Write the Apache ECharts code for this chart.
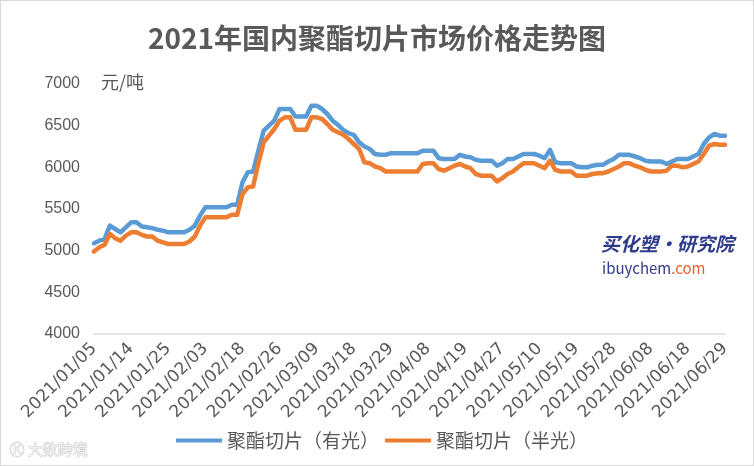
<!DOCTYPE html>
<html>
<head>
<meta charset="utf-8">
<script src="https://cdn.jsdelivr.net/npm/echarts@6/dist/echarts.min.js"></script>
<style>
html,body{margin:0;padding:0;background:#fff;}
#chart{width:754px;height:466px;box-sizing:border-box;border:1px solid #d9d9d9;}
</style>
</head>
<body>
<div id="chart"></div>
<script>
const titleText = '2021年国内聚酯切片市场价格走势图';
const unitText = '元/吨';
const seriesNames = ['聚酯切片（有光）', '聚酯切片（半光）'];

const dates = [
'2021/01/05','2021/01/06','2021/01/07','2021/01/08','2021/01/11','2021/01/12','2021/01/13','2021/01/14','2021/01/15','2021/01/18',
'2021/01/19','2021/01/20','2021/01/21','2021/01/22','2021/01/25','2021/01/26','2021/01/27','2021/01/28','2021/01/29',
'2021/02/01','2021/02/02','2021/02/03','2021/02/04','2021/02/05','2021/02/07','2021/02/08','2021/02/09','2021/02/10',
'2021/02/18','2021/02/19','2021/02/20','2021/02/22','2021/02/23','2021/02/24','2021/02/25','2021/02/26',
'2021/03/01','2021/03/02','2021/03/03','2021/03/04','2021/03/05','2021/03/08','2021/03/09','2021/03/10','2021/03/11','2021/03/12',
'2021/03/15','2021/03/16','2021/03/17','2021/03/18','2021/03/19','2021/03/22','2021/03/23','2021/03/24','2021/03/25','2021/03/26',
'2021/03/29','2021/03/30','2021/03/31',
'2021/04/01','2021/04/02','2021/04/06','2021/04/07','2021/04/08','2021/04/09','2021/04/12','2021/04/13','2021/04/14','2021/04/15',
'2021/04/16','2021/04/19','2021/04/20','2021/04/21','2021/04/22','2021/04/23','2021/04/25','2021/04/26','2021/04/27','2021/04/28',
'2021/04/29','2021/04/30',
'2021/05/06','2021/05/07','2021/05/08','2021/05/10','2021/05/11','2021/05/12','2021/05/13','2021/05/14','2021/05/17','2021/05/18',
'2021/05/19','2021/05/20','2021/05/21','2021/05/24','2021/05/25','2021/05/26','2021/05/27','2021/05/28','2021/05/31',
'2021/06/01','2021/06/02','2021/06/03','2021/06/04','2021/06/07','2021/06/08','2021/06/09','2021/06/10','2021/06/11','2021/06/15',
'2021/06/16','2021/06/17','2021/06/18','2021/06/21','2021/06/22','2021/06/23','2021/06/24','2021/06/25','2021/06/28','2021/06/29'
];

// 聚酯切片（有光）
const brightPrice = [
5090,5120,5140,5300,5260,5220,5280,5340,5340,5290,
5280,5270,5250,5240,5220,5220,5220,5220,5250,5300,
5420,5520,5520,5520,5520,5520,5550,5550,5820,5940,
5950,6200,6440,6500,6560,6700,6700,6700,6610,6610,
6610,6740,6740,6700,6640,6560,6510,6450,6410,6390,
6300,6250,6220,6160,6150,6150,6170,6170,6170,6170,
6170,6170,6200,6200,6200,6110,6100,6100,6100,6150,
6130,6120,6090,6080,6080,6080,6020,6050,6100,6100,
6130,6160,6160,6160,6140,6110,6210,6060,6050,6050,
6050,6010,6000,6000,6020,6030,6030,6070,6100,6150,
6150,6150,6130,6110,6080,6070,6070,6070,6040,6070,
6100,6100,6100,6130,6160,6280,6360,6400,6380,6380
];

// 聚酯切片（半光）
const semiDullPrice = [
4990,5040,5070,5200,5150,5120,5180,5220,5220,5190,
5170,5170,5120,5100,5080,5080,5080,5080,5110,5170,
5300,5400,5400,5400,5400,5400,5430,5430,5680,5760,
5770,6050,6300,6380,6460,6560,6600,6600,6450,6450,
6450,6600,6600,6580,6520,6450,6420,6390,6340,6280,
6220,6060,6050,6010,5990,5950,5950,5950,5950,5950,
5950,5950,6040,6050,6050,5980,5960,5990,6020,6040,
6010,5990,5920,5900,5900,5900,5830,5870,5920,5950,
6000,6050,6050,6050,6020,5990,6080,5970,5950,5950,
5950,5900,5900,5900,5920,5930,5930,5950,5980,6010,
6050,6050,6020,6000,5970,5950,5950,5950,5960,6020,
6020,6000,6010,6040,6070,6160,6260,6280,6270,6270
];

const yMin = 4000, yMax = 7000, yStep = 500;

const chart = echarts.init(document.getElementById('chart'), null, {renderer: 'canvas'});
const txt = '#595959';
const font = '"Noto Sans CJK SC", "Noto Sans", sans-serif';

chart.setOption({
  backgroundColor: '#fff',
  animation: false,
  title: {
    text: titleText,
    left: 'center',
    top: 18,
    textStyle: {fontSize: 28, fontWeight: 'bold', color: txt, fontFamily: font}
  },
  legend: {
    bottom: 10,
    left: 170,
    icon: 'rect',
    itemWidth: 46,
    itemHeight: 4,
    itemGap: 6,
    textStyle: {fontSize: 19, color: txt, fontFamily: font},
    data: seriesNames
  },
  grid: {left: 93, right: 28, top: 83, bottom: 131, containLabel: false},
  xAxis: {
    type: 'category',
    boundaryGap: false,
    data: dates,
    axisLine: {lineStyle: {color: '#d9d9d9', width: 1.5}},
    axisTick: {show: false},
    axisLabel: {
      interval: 6,
      rotate: 45,
      fontSize: 17,
      color: txt,
      margin: 12,
      fontFamily: '"DejaVu Sans", "Noto Sans", sans-serif'
    },
    splitLine: {show: false}
  },
  yAxis: {
    type: 'value',
    min: yMin,
    max: yMax,
    interval: yStep,
    axisLine: {show: false},
    axisTick: {show: false},
    splitLine: {show: false},
    axisLabel: {
      fontSize: 16, color: txt, margin: 14,
      fontFamily: '"Liberation Sans", "Noto Sans", sans-serif',
      formatter: function (v) { return String(v); }
    }
  },
  graphic: [
    {type: 'text', left: 100, top: 72, style: {text: unitText, fontSize: 18, fill: txt, fontFamily: font}},
    {type: 'text', left: 600, top: 233, style: {text: '买化塑·研究院', fontSize: 19, fontWeight: 'bold', fontStyle: 'italic', fill: '#2e3a8c', fontFamily: font}},
    {type: 'text', left: 601, top: 260, style: {
      rich: {a: {fontSize: 15, fill: '#2e3a8c', fontFamily: font}, b: {fontSize: 15, fill: '#e8602c', fontFamily: font}},
      text: '{a|ibuychem}{b|.com}'
    }},
    {type: 'text', left: 8, top: 440, style: {text: 'Ⓚ 大数跨境', fontSize: 15, fill: '#f2f2f2', stroke: '#cfcfcf', lineWidth: 1, fontFamily: font}}
  ],
  series: [
    {
      name: seriesNames[0],
      type: 'line',
      data: brightPrice,
      showSymbol: false,
      symbol: 'none',
      lineStyle: {width: 4.5, color: '#5b9bd5', join: 'round', cap: 'round'},
      itemStyle: {color: '#5b9bd5'}
    },
    {
      name: seriesNames[1],
      type: 'line',
      data: semiDullPrice,
      showSymbol: false,
      symbol: 'none',
      lineStyle: {width: 4.5, color: '#ed7d31', join: 'round', cap: 'round'},
      itemStyle: {color: '#ed7d31'}
    }
  ]
});
</script>
</body>
</html>
